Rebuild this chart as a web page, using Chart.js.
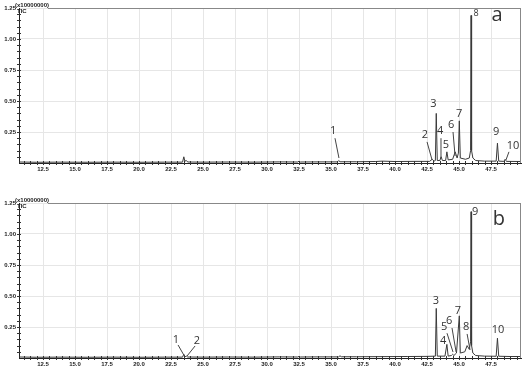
<!DOCTYPE html>
<html>
<head>
<meta charset="utf-8">
<script src="https://cdn.jsdelivr.net/npm/chart.js@4/dist/chart.umd.min.js"></script>
<style>
  body { margin: 0; background: #fff; }
  #wrap { position: relative; width: 526px; height: 371px; }
  canvas { position: absolute; left: 0; }
</style>
</head>
<body>
<div id="wrap">
  <canvas id="chartA" width="526" height="180" style="top:0"></canvas>
  <canvas id="chartB" width="526" height="191" style="top:180px"></canvas>
</div>
<script>
// tick labels
const timeTicks = [12.5, 15.0, 17.5, 20.0, 22.5, 25.0, 27.5, 30.0, 32.5, 35.0, 37.5, 40.0, 42.5, 45.0, 47.5];
const intensityTicks = [0.25, 0.50, 0.75, 1.00, 1.25];

// chromatogram a (retention time in min, TIC x10000000)
const timesA = [10.65, 12.0, 14.0, 16.0, 18.0, 20.0, 22.0, 23.4, 23.5, 23.58, 23.7, 23.8, 25.0, 27.0, 29.0, 31.0,
  32.4, 32.5, 32.6, 34.0, 35.5, 35.6, 35.7, 37.0, 38.5, 39.0, 40.0, 41.5, 42.7, 42.9, 43.05, 43.15, 43.22, 43.3,
  43.5, 43.6, 43.7, 43.95, 44.05, 44.15, 44.5, 44.7, 44.85, 44.95, 45.02, 45.1, 45.5, 45.8, 45.9, 45.94, 45.98,
  46.08, 46.3, 47.0, 47.9, 48.0, 48.1, 48.5, 48.6, 48.7, 49.84];
const ticA = [0.008, 0.006, 0.007, 0.006, 0.007, 0.006, 0.007, 0.007, 0.05, 0.015, 0.02, 0.008, 0.007, 0.008, 0.007, 0.009,
  0.008, 0.015, 0.008, 0.009, 0.009, 0.02, 0.01, 0.01, 0.012, 0.015, 0.012, 0.013, 0.013, 0.03, 0.015, 0.02, 0.40, 0.02,
  0.02, 0.05, 0.02, 0.02, 0.09, 0.025, 0.03, 0.09, 0.04, 0.08, 0.34, 0.04, 0.03, 0.04, 0.10, 1.19, 0.10,
  0.04, 0.02, 0.015, 0.015, 0.16, 0.015, 0.013, 0.03, 0.013, 0.012];

// chromatogram b
const timesB = [10.65, 12.0, 14.0, 16.0, 18.0, 20.0, 22.0, 23.4, 23.5, 23.6, 23.7, 23.8, 25.0, 27.0, 29.0, 31.0,
  32.4, 32.5, 32.6, 34.0, 35.6, 35.7, 35.8, 37.0, 39.0, 41.0, 42.5, 43.15, 43.22, 43.3, 43.9, 44.05, 44.15, 44.4,
  44.5, 44.6, 44.8, 45.02, 45.1, 45.45, 45.63, 45.8, 45.9, 45.94, 45.98, 46.08, 46.3, 47.0, 47.9, 48.0, 48.1, 49.0, 49.84];
const ticB = [0.008, 0.006, 0.007, 0.006, 0.007, 0.006, 0.007, 0.007, 0.03, 0.01, 0.015, 0.008, 0.007, 0.008, 0.007, 0.009,
  0.008, 0.013, 0.008, 0.009, 0.009, 0.018, 0.01, 0.01, 0.011, 0.012, 0.013, 0.015, 0.40, 0.015, 0.015, 0.11, 0.015, 0.02,
  0.03, 0.02, 0.04, 0.34, 0.04, 0.05, 0.10, 0.07, 0.13, 1.18, 0.10, 0.04, 0.02, 0.015, 0.014, 0.16, 0.014, 0.012, 0.012];

// peak numbers: label position and leader line, in data units
const calloutsA = [
  { text: '1', x: 35.16, y: 0.26, from: [35.31, 0.20], to: [35.62, 0.04] },
  { text: '2', x: 42.34, y: 0.23, from: [42.5, 0.17], to: [42.89, 0.025] },
  { text: '3', x: 43.0, y: 0.48 },
  { text: '4', x: 43.52, y: 0.26, from: [43.59, 0.20], to: [43.59, 0.04] },
  { text: '5', x: 43.98, y: 0.15 },
  { text: '6', x: 44.38, y: 0.31, from: [44.53, 0.25], to: [44.69, 0.056] },
  { text: '7', x: 45.0, y: 0.40 },
  { text: '8', x: 46.33, y: 1.21, small: true },
  { text: '9', x: 47.89, y: 0.25 },
  { text: '10', x: 49.22, y: 0.14, from: [48.9, 0.09], to: [48.67, 0.025] },
  { text: 'a', x: 47.97, y: 1.19, big: true }
];
const calloutsB = [
  { text: '1', x: 22.89, y: 0.15, from: [23.05, 0.105], to: [23.5, 0.024] },
  { text: '2', x: 24.53, y: 0.14, from: [24.38, 0.097], to: [23.75, 0.016] },
  { text: '3', x: 43.2, y: 0.46 },
  { text: '4', x: 43.75, y: 0.14 },
  { text: '5', x: 43.83, y: 0.25, from: [44.06, 0.20], to: [44.53, 0.048] },
  { text: '6', x: 44.22, y: 0.30, from: [44.45, 0.242], to: [44.77, 0.048] },
  { text: '7', x: 44.92, y: 0.38 },
  { text: '8', x: 45.55, y: 0.25, from: [45.63, 0.194], to: [45.86, 0.065] },
  { text: '9', x: 46.25, y: 1.18 },
  { text: '10', x: 48.05, y: 0.23 },
  { text: 'b', x: 48.12, y: 1.12, big: true }
];

const tickFont = { family: 'Liberation Sans', size: 6, weight: 'bold' };

// frame, minor ticks, header text and peak callouts
const decorPlugin = {
  id: 'decor',
  afterDraw(chart, args, opts) {
    const { ctx, chartArea: a, scales: { x, y } } = chart;
    ctx.save();
    ctx.strokeStyle = '#888';
    ctx.lineWidth = 1;
    ctx.beginPath();
    ctx.moveTo(a.left + 29, a.top + 0.5);
    ctx.lineTo(a.right, a.top + 0.5);
    ctx.moveTo(a.right - 0.5, a.top);
    ctx.lineTo(a.right - 0.5, a.bottom);
    ctx.stroke();

    // minor tick marks
    ctx.strokeStyle = '#333';
    ctx.beginPath();
    for (let t = 11; t < x.max; t += 0.5) {
      const px = Math.round(x.getPixelForValue(t)) + 0.5;
      ctx.moveTo(px, a.bottom - 2);
      ctx.lineTo(px, a.bottom + 2);
    }
    for (let v = 0.05; v <= 1.25; v += 0.05) {
      const py = Math.round(y.getPixelForValue(v)) + 0.5;
      ctx.moveTo(a.left - 2, py);
      ctx.lineTo(a.left + 2, py);
    }
    ctx.stroke();

    ctx.fillStyle = '#222';
    ctx.font = 'bold 6px Liberation Sans';
    ctx.textBaseline = 'middle';
    ctx.textAlign = 'left';
    ctx.fillText('(x10000000)', a.left - 4, a.top - 3);
    ctx.fillText('TIC', a.left - 2, a.top + 3);

    ctx.textAlign = 'center';
    ctx.strokeStyle = '#444';
    opts.callouts.forEach(c => {
      ctx.fillStyle = '#333';
      ctx.font = c.big ? '20px Open Sans' : (c.small ? '9px Open Sans' : '11px Open Sans');
      ctx.fillText(c.text, x.getPixelForValue(c.x), y.getPixelForValue(c.y));
      if (c.from) {
        ctx.beginPath();
        ctx.moveTo(x.getPixelForValue(c.from[0]), y.getPixelForValue(c.from[1]));
        ctx.lineTo(x.getPixelForValue(c.to[0]), y.getPixelForValue(c.to[1]));
        ctx.stroke();
      }
    });
    ctx.restore();
  }
};

function makeChart(id, times, values, callouts, padTop, padBottom) {
  return new Chart(document.getElementById(id), {
    type: 'line',
    data: {
      datasets: [{
        data: times.map((t, i) => ({ x: t, y: values[i] })),
        borderColor: '#3a3a3a',
        borderWidth: 1,
        pointRadius: 0,
        tension: 0
      }]
    },
    options: {
      responsive: false,
      animation: false,
      layout: { padding: { left: 0, right: 5, top: padTop, bottom: padBottom } },
      plugins: { legend: { display: false }, tooltip: { enabled: false }, decor: { callouts: callouts } },
      scales: {
        x: {
          type: 'linear',
          min: 10.625,
          max: 49.84,
          afterBuildTicks: ax => { ax.ticks = timeTicks.map(v => ({ value: v })); },
          afterFit: ax => { ax.height = 12; },
          ticks: { font: tickFont, color: '#222', padding: 3, maxRotation: 0, autoSkip: false,
                   callback: v => v.toFixed(1) },
          grid: { color: '#e6e6e6', drawTicks: false },
          border: { color: '#222', width: 1 }
        },
        y: {
          min: 0,
          max: 1.25,
          afterBuildTicks: ax => { ax.ticks = intensityTicks.map(v => ({ value: v })); },
          afterFit: ax => { ax.width = 19; },
          ticks: { font: tickFont, color: '#222', padding: 3, callback: v => v.toFixed(2) },
          grid: { color: '#e6e6e6', drawTicks: false },
          border: { color: '#222', width: 1 }
        }
      }
    },
    plugins: [decorPlugin]
  });
}

makeChart('chartA', timesA, ticA, calloutsA, 8, 5);
makeChart('chartB', timesB, ticB, calloutsB, 23, 1);
</script>
</body>
</html>
